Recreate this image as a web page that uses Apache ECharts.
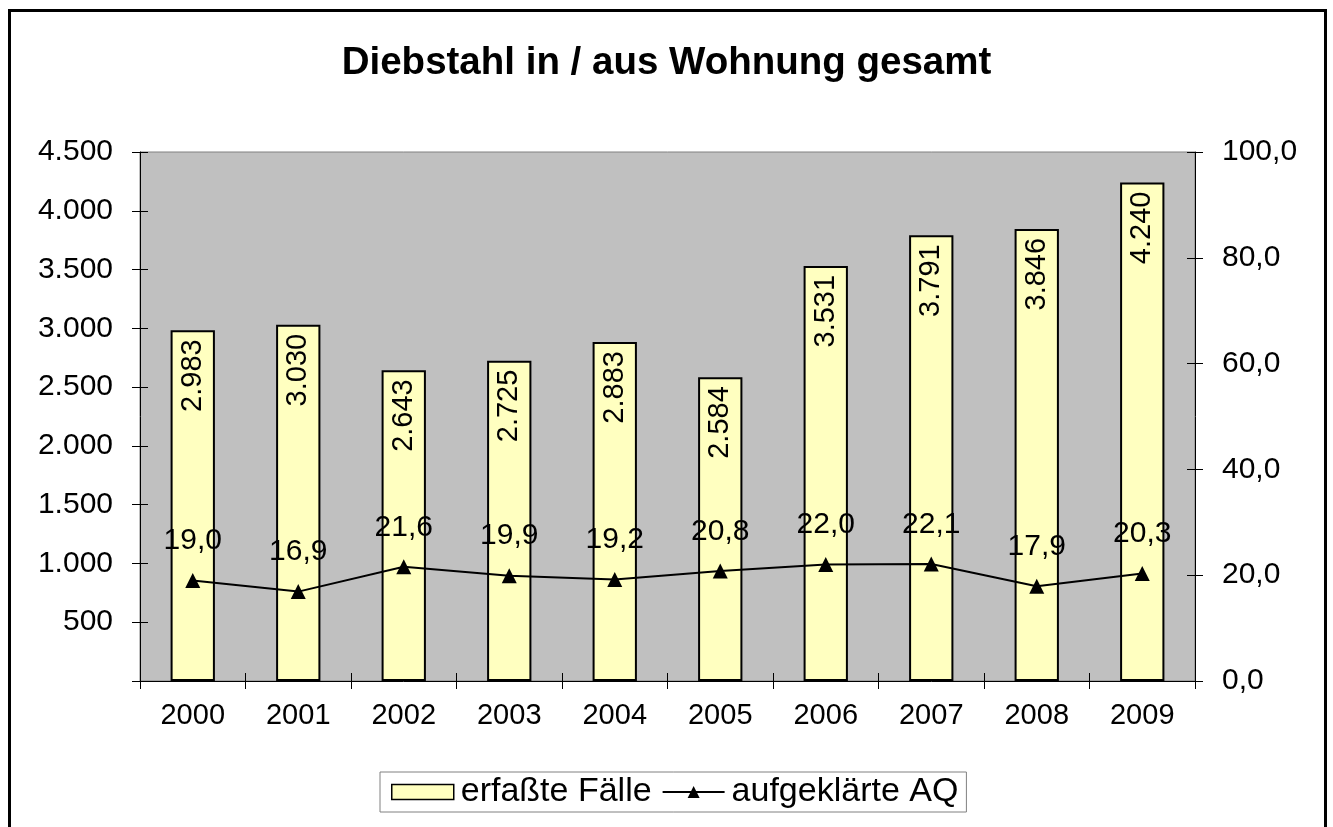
<!DOCTYPE html>
<html>
<head>
<meta charset="utf-8">
<script src="https://cdn.jsdelivr.net/npm/echarts@6/dist/echarts.min.js"></script>
<style>
html,body{margin:0;padding:0;background:#fff;}
#frame{position:absolute;left:8px;top:9px;width:1319px;height:840px;border:3px solid #000;border-bottom:none;box-sizing:border-box;}
#chart{position:absolute;left:0;top:0;width:1333px;height:827px;}
</style>
</head>
<body>
<div id="frame"></div>
<div id="chart"></div>
<script>
const titleText = 'Diebstahl in / aus Wohnung gesamt';
const years = ['2000','2001','2002','2003','2004','2005','2006','2007','2008','2009'];
const faelle = [2983, 3030, 2643, 2725, 2883, 2584, 3531, 3791, 3846, 4240];
const aq = [19.0, 16.9, 21.6, 19.9, 19.2, 20.8, 22.0, 22.1, 17.9, 20.3];
const seriesNames = ['erfaßte Fälle', 'aufgeklärte AQ'];

const FONT = 'Liberation Sans, Arial, sans-serif';
const fmtThousands = v => String(Math.round(v)).replace(/\B(?=(\d{3})+(?!\d))/g, '.');
const fmtDec = v => v.toFixed(1).replace('.', ',');

const chart = echarts.init(document.getElementById('chart'), null, {renderer:'canvas'});
const tickCommon = {show:true, length:8, lineStyle:{color:'#000', width:1}};
chart.setOption({
  animation:false,
  backgroundColor:'transparent',
  title:{text:titleText, left:'center', top:39, textStyle:{fontFamily:FONT, fontSize:38.5, fontWeight:'bold', color:'#000'}},
  grid:{left:140, right:138, top:152, bottom:146, show:true, backgroundColor:'#C0C0C0', borderColor:'#808080', borderWidth:1},
  legend:{
    data:[{name:seriesNames[0], icon:'rect', itemStyle:{color:'#FFFFC0', borderColor:'#000', borderWidth:1.5}}, {name:seriesNames[1]}],
    left:380, top:772, itemWidth:62, itemHeight:15, itemGap:10,
    padding:[3,8,3,11], borderColor:'#808080', borderWidth:1, backgroundColor:'#fff',
    textStyle:{fontFamily:FONT, fontSize:34, color:'#000', padding:[0,0,0,2]}
  },
  xAxis:[
    {type:'category', data:years, position:'bottom',
     axisLine:{show:true, lineStyle:{color:'#000', width:1}},
     axisTick:tickCommon,
     axisLabel:{fontFamily:FONT, fontSize:29, color:'#000', margin:20}},
    {type:'category', data:years, position:'bottom',
     axisLine:{show:false}, axisTick:Object.assign({}, tickCommon, {inside:true}), axisLabel:{show:false}}
  ],
  yAxis:[
    {type:'value', min:0, max:4500, interval:500, position:'left',
     axisLine:{show:true, lineStyle:{color:'#000', width:1}},
     axisTick:tickCommon, splitLine:{show:false},
     axisLabel:{fontFamily:FONT, fontSize:30, color:'#000', margin:27, formatter:v => v === 0 ? '' : fmtThousands(v)}},
    {type:'value', min:0, max:100, interval:20, position:'right',
     axisLine:{show:true, lineStyle:{color:'#000', width:1}},
     axisTick:tickCommon, splitLine:{show:false},
     axisLabel:{fontFamily:FONT, fontSize:30, color:'#000', margin:27, formatter:v => fmtDec(v)}},
    {type:'value', min:0, max:4500, interval:500, position:'left', offset:0,
     axisLine:{show:false}, axisTick:Object.assign({}, tickCommon, {inside:true}), splitLine:{show:false}, axisLabel:{show:false}},
    {type:'value', min:0, max:100, interval:20, position:'right', offset:0,
     axisLine:{show:false}, axisTick:Object.assign({}, tickCommon, {inside:true}), splitLine:{show:false}, axisLabel:{show:false}}
  ],
  series:[
    {name:seriesNames[0], type:'bar', data:faelle, xAxisIndex:0, yAxisIndex:0, barWidth:'42%',
     itemStyle:{color:'#FFFFC0', borderColor:'#000', borderWidth:2},
     label:{show:true, position:'insideTop', rotate:90, align:'right', verticalAlign:'middle', distance:9,
            fontFamily:FONT, fontSize:29, color:'#000', formatter:p => fmtThousands(p.value)}},
    {name:seriesNames[1], type:'line', data:aq, xAxisIndex:0, yAxisIndex:1,
     symbol:'triangle', symbolSize:15, itemStyle:{color:'#000'}, lineStyle:{color:'#000', width:2},
     label:{show:true, position:'top', distance:17, fontFamily:FONT, fontSize:30, color:'#000', formatter:p => fmtDec(p.value)}}
  ]
});
</script>
</body>
</html>
